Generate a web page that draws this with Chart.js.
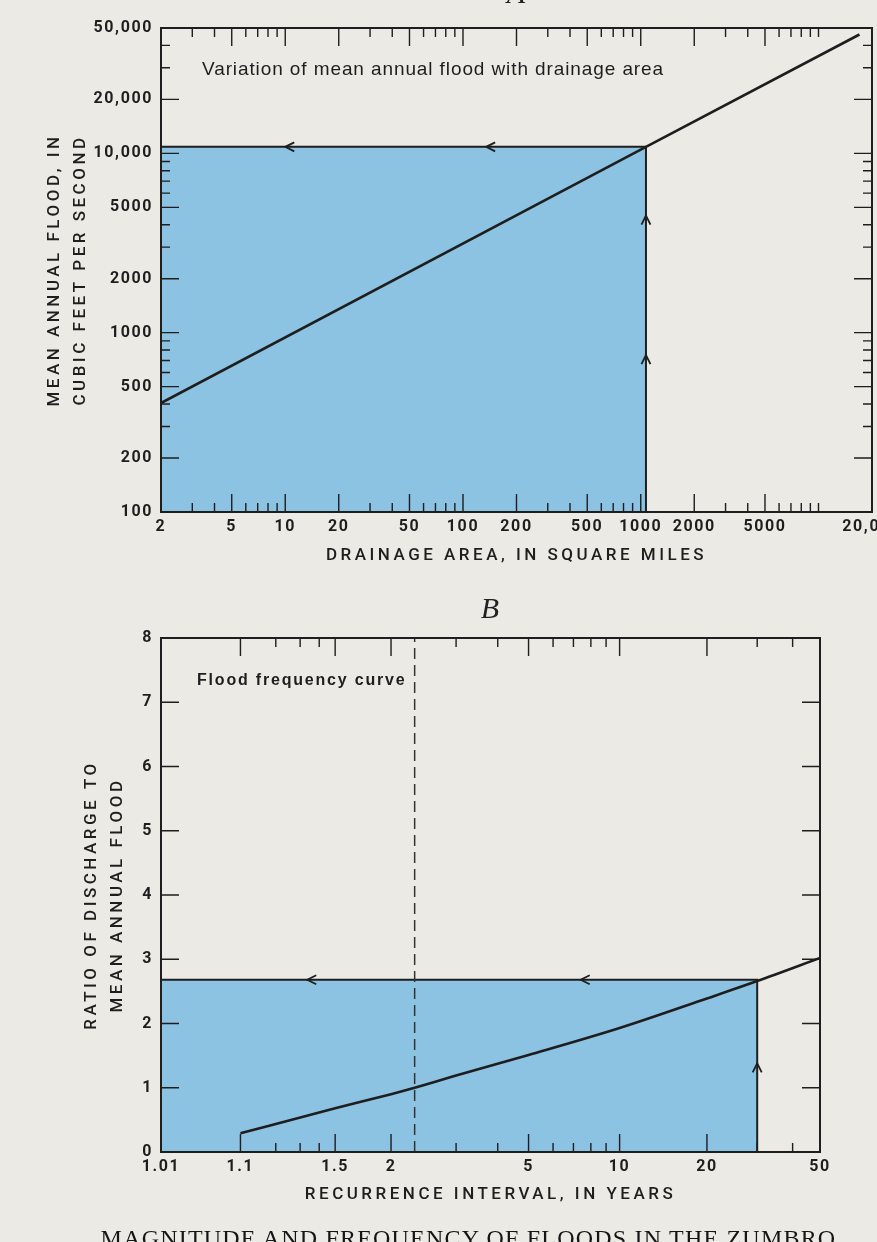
<!DOCTYPE html>
<html>
<head>
<meta charset="utf-8">
<script src="https://cdn.jsdelivr.net/npm/chart.js@4.4.1/dist/chart.umd.min.js"></script>
<style>
  html, body { margin: 0; padding: 0; }
  body { width: 877px; height: 1242px; overflow: hidden; background: #ebeae4; position: relative; }
  .box { position: absolute; left: 0; width: 877px; }
  #boxA { top: 0; height: 580px; }
  #boxB { top: 590px; height: 652px; }
  .panel { position: absolute; width: 100px; text-align: center; color: #222;
           font: italic 30px/30px 'Liberation Serif', 'DejaVu Serif', serif; }
  #caption { position: absolute; top: 1226px; left: 30px; width: 877px; text-align: center; white-space: nowrap;
             font: 24px/24px 'Liberation Serif', serif; color: #151515; letter-spacing: 1.2px; }
</style>
</head>
<body>
<div class="box" id="boxA"><canvas id="chartA"></canvas></div>
<div class="box" id="boxB"><canvas id="chartB"></canvas></div>
<div class="panel" style="left:466px; top:-22px">A</div>
<div class="panel" style="left:440px; top:593px">B</div>
<div id="caption">MAGNITUDE AND FREQUENCY OF FLOODS IN THE ZUMBRO</div>
<script>
// --- A: mean annual flood against drainage area (log-log) ---
const areaTicksA = [2, 5, 10, 20, 50, 100, 200, 500, 1000, 2000, 5000, 20000];
const areaLabelsA = ['2', '5', '10', '20', '50', '100', '200', '500', '1000', '2000', '5000', '20,000'];
const areaMajorA = [5, 10, 20, 50, 100, 200, 500, 1000, 2000, 5000];
const areaMinorA = [3, 4, 6, 7, 8, 9, 30, 40, 60, 70, 80, 90, 300, 400, 600, 700, 800, 900,
                    3000, 4000, 6000, 7000, 8000, 9000, 10000];
const floodTicksA = [100, 200, 500, 1000, 2000, 5000, 10000, 20000, 50000];
const floodLabelsA = ['100', '200', '500', '1000', '2000', '5000', '10,000', '20,000', '50,000'];
const floodMajorA = [200, 500, 1000, 2000, 5000, 10000, 20000];
const floodMinorA = [300, 400, 600, 700, 800, 900, 3000, 4000, 6000, 7000, 8000, 9000, 30000, 40000];

const curveArea = [2, 1070, 17000];
const curveFlood = [405, 10870, 46000];
const basinArea = 1070;      // square miles
const basinFlood = 10870;    // cfs
const arrowAreaA = [10, 135];
const arrowFloodA = [750, 4500];

// --- B: flood frequency curve (Gumbel probability scale) ---
const recTicksB = [1.01, 1.1, 1.5, 2, 5, 10, 20, 50];
const recMajorB = [1.1, 1.5, 2, 5, 10, 20];
const recMinorB = [1.2, 1.3, 1.4, 3, 4, 6, 7, 8, 9, 30, 40];
const ratioMajorB = [1, 2, 3, 4, 5, 6, 7];

const curveT = [1.1, 1.5, 2, 2.3, 3, 5, 10, 20, 30, 50];
const curveRatio = [0.29, 0.68, 0.9, 1.0, 1.19, 1.51, 1.93, 2.39, 2.66, 3.02];
const meanFloodT = 2.3;
const designT = 30;
const designRatio = 2.68;
const arrowTB = [1.335, 7.4];
const arrowRatioB = [1.38];

const ink = '#1e1e1e';
const blue = '#8cc2e2';
const family = "Roboto, 'Liberation Sans', Arial, sans-serif";

// reduced variate of the extreme-value distribution
function gumbel(t) { return -Math.log(-Math.log(1 - 1 / t)); }

class GumbelScale extends Chart.Scale {
  determineDataLimits() {
    this.min = this.options.min;
    this.max = this.options.max;
  }
  buildTicks() {
    return recTicksB.map(v => ({ value: v }));
  }
  getLabelForValue(v) { return String(v); }
  configure() {
    super.configure();
    this._gMin = gumbel(this.min);
    this._gRange = gumbel(this.max) - this._gMin;
  }
  getPixelForValue(v) {
    return this.getPixelForDecimal((gumbel(v) - this._gMin) / this._gRange);
  }
  getValueForPixel(p) {
    const g = this._gMin + this.getDecimalForPixel(p) * this._gRange;
    return 1 / (1 - Math.exp(-Math.exp(-g)));
  }
}
GumbelScale.id = 'gumbel';
GumbelScale.defaults = {};
Chart.register(GumbelScale);

// wide tracking like the printed figure: titles are drawn before the
// datasets, tick labels after them (ticks.z = 1)
const spacing = {
  id: 'spacing',
  beforeDraw(chart) { chart.ctx.letterSpacing = '3.5px'; },
  afterDatasetsDraw(chart) { chart.ctx.letterSpacing = '1.6px'; }
};

// inward tick marks on all four sides, frame, arrows and the note
const frameTicks = {
  id: 'frameTicks',
  afterDatasetsDraw(chart, args, o) {
    const ctx = chart.ctx, x = chart.scales.x, y = chart.scales.y;
    const { left, right, top, bottom } = chart.chartArea;
    ctx.save();
    ctx.strokeStyle = ink;
    ctx.lineWidth = 1.4;
    ctx.beginPath();
    const xt = (vals, len) => vals.forEach(v => {
      const p = x.getPixelForValue(v);
      ctx.moveTo(p, bottom); ctx.lineTo(p, bottom - len);
      ctx.moveTo(p, top); ctx.lineTo(p, top + len);
    });
    const yt = (vals, len) => vals.forEach(v => {
      const p = y.getPixelForValue(v);
      ctx.moveTo(left, p); ctx.lineTo(left + len, p);
      ctx.moveTo(right, p); ctx.lineTo(right - len, p);
    });
    xt(o.xMajor, 18); xt(o.xMinor, 9);
    yt(o.yMajor, 18); yt(o.yMinor, 9);
    ctx.stroke();

    ctx.lineWidth = 1.8;
    ctx.beginPath();
    const ly = y.getPixelForValue(o.level);
    o.leftArrows.forEach(v => {
      const px = x.getPixelForValue(v);
      ctx.moveTo(px + 9, ly - 4.5); ctx.lineTo(px, ly); ctx.lineTo(px + 9, ly + 4.5);
    });
    const ux = x.getPixelForValue(o.at);
    o.upArrows.forEach(v => {
      const py = y.getPixelForValue(v);
      ctx.moveTo(ux - 4.5, py + 9); ctx.lineTo(ux, py); ctx.lineTo(ux + 4.5, py + 9);
    });
    ctx.stroke();

    ctx.lineWidth = 2;
    ctx.strokeRect(left, top, right - left, bottom - top);

    ctx.fillStyle = ink;
    ctx.font = o.noteFont;
    ctx.letterSpacing = o.noteSpacing;
    ctx.textAlign = 'left';
    ctx.textBaseline = 'alphabetic';
    ctx.fillText(o.note, left + o.noteX, top + o.noteY);
    ctx.restore();
  }
};

const tickFont = { family: family, size: 16, weight: 'bold' };
const xTitleFont = { family: family, size: 17, weight: '500' };
const yTitleFont = { family: family, size: 17, weight: '500', lineHeight: '26px' };
const noGrid = { display: false, drawTicks: false, tickLength: 0 };

new Chart(document.getElementById('chartA'), {
  type: 'line',
  data: {
    datasets: [{
      label: 'Mean annual flood',
      data: curveArea.map((a, i) => ({ x: a, y: curveFlood[i] })),
      borderColor: ink, borderWidth: 2.6, pointRadius: 0, fill: false, order: 1
    }, {
      label: 'Zumbro basin',
      data: [{ x: areaTicksA[0], y: basinFlood }, { x: basinArea, y: basinFlood }, { x: basinArea, y: floodTicksA[0] }],
      borderColor: ink, borderWidth: 2, backgroundColor: blue, fill: 'start', pointRadius: 0, order: 2
    }]
  },
  options: {
    responsive: true, maintainAspectRatio: false, animation: false,
    layout: { padding: { top: 28, right: 5, left: 0, bottom: 0 } },
    plugins: {
      legend: { display: false }, tooltip: { enabled: false },
      frameTicks: {
        xMajor: areaMajorA, xMinor: areaMinorA, yMajor: floodMajorA, yMinor: floodMinorA,
        level: basinFlood, leftArrows: arrowAreaA, at: basinArea, upArrows: arrowFloodA,
        note: 'Variation of mean annual flood with drainage area',
        noteFont: "19px 'Liberation Sans', Arial, sans-serif", noteSpacing: '0.9px', noteX: 41, noteY: 47
      }
    },
    scales: {
      x: {
        type: 'logarithmic', min: 2, max: 20000,
        grid: noGrid, border: { display: false },
        afterBuildTicks: s => { s.ticks = areaTicksA.map(v => ({ value: v })); },
        afterFit: s => { s.height = 68; s.paddingLeft = 0; s.paddingRight = 0; },
        ticks: { autoSkip: false, maxRotation: 0, padding: 5, font: tickFont, color: ink, z: 1,
                 callback: (v, i) => areaLabelsA[i] },
        title: { display: true, text: 'DRAINAGE AREA, IN SQUARE MILES', font: xTitleFont, color: ink,
                 padding: { top: 0, bottom: 14 } }
      },
      y: {
        type: 'logarithmic', min: 100, max: 50000,
        grid: noGrid, border: { display: false },
        afterBuildTicks: s => { s.ticks = floodTicksA.map(v => ({ value: v })); },
        afterFit: s => { s.width = 161; s.paddingTop = 0; s.paddingBottom = 0; },
        ticks: { autoSkip: false, padding: 8, font: tickFont, color: ink, z: 1,
                 callback: (v, i) => floodLabelsA[i] },
        title: { display: true, text: ['MEAN ANNUAL FLOOD, IN', 'CUBIC FEET PER SECOND'],
                 font: yTitleFont, color: ink, padding: { top: 42, bottom: 0 } }
      }
    }
  },
  plugins: [spacing, frameTicks]
});

new Chart(document.getElementById('chartB'), {
  type: 'line',
  data: {
    datasets: [{
      label: 'Flood frequency curve',
      data: curveT.map((t, i) => ({ x: t, y: curveRatio[i] })),
      borderColor: ink, borderWidth: 2.6, pointRadius: 0, fill: false,
      cubicInterpolationMode: 'monotone', order: 1
    }, {
      label: 'Mean annual flood',
      data: [{ x: meanFloodT, y: 0 }, { x: meanFloodT, y: 8 }],
      borderColor: '#333', borderWidth: 1.5, borderDash: [11, 6], pointRadius: 0, fill: false, order: 2
    }, {
      label: 'Design flood',
      data: [{ x: recTicksB[0], y: designRatio }, { x: designT, y: designRatio }, { x: designT, y: 0 }],
      borderColor: ink, borderWidth: 2, backgroundColor: blue, fill: 'start', pointRadius: 0, order: 3
    }]
  },
  options: {
    responsive: true, maintainAspectRatio: false, animation: false,
    layout: { padding: { top: 48, right: 57, left: 0, bottom: 0 } },
    plugins: {
      legend: { display: false }, tooltip: { enabled: false },
      frameTicks: {
        xMajor: recMajorB, xMinor: recMinorB, yMajor: ratioMajorB, yMinor: [],
        level: designRatio, leftArrows: arrowTB, at: designT, upArrows: arrowRatioB,
        note: 'Flood frequency curve',
        noteFont: "bold 16px 'Liberation Sans', Arial, sans-serif", noteSpacing: '1.8px', noteX: 36, noteY: 47
      }
    },
    scales: {
      x: {
        type: 'gumbel', min: 1.01, max: 50,
        grid: noGrid, border: { display: false },
        afterFit: s => { s.height = 90; s.paddingLeft = 0; s.paddingRight = 0; },
        ticks: { autoSkip: false, maxRotation: 0, padding: 5, font: tickFont, color: ink, z: 1,
                 callback: v => String(v) },
        title: { display: true, text: 'RECURRENCE INTERVAL, IN YEARS', font: xTitleFont, color: ink,
                 padding: { top: 0, bottom: 37 } }
      },
      y: {
        type: 'linear', min: 0, max: 8,
        grid: noGrid, border: { display: false },
        afterFit: s => { s.width = 161; s.paddingTop = 0; s.paddingBottom = 0; },
        ticks: { stepSize: 1, padding: 8, font: tickFont, color: ink, z: 1 },
        title: { display: true, text: ['RATIO OF DISCHARGE TO', 'MEAN ANNUAL FLOOD'],
                 font: yTitleFont, color: ink, padding: { top: 79, bottom: 0 } }
      }
    }
  },
  plugins: [spacing, frameTicks]
});
</script>
</body>
</html>
